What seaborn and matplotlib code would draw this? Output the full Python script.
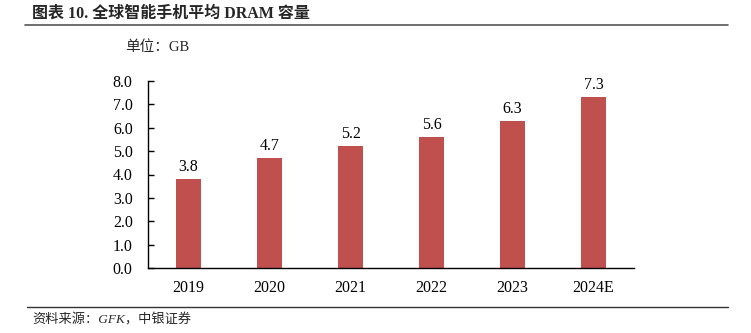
import matplotlib
matplotlib.use("Agg")
import matplotlib.pyplot as plt
import seaborn as sns
import pandas as pd
import numpy as np
from matplotlib.lines import Line2D

years = ["2019", "2020", "2021", "2022", "2023", "2024E"]
dram_gb = [3.8, 4.7, 5.2, 5.6, 6.3, 7.3]
y_ticks = [0.0, 1.0, 2.0, 3.0, 4.0, 5.0, 6.0, 7.0, 8.0]

title = "图表 10. 全球智能手机平均 DRAM 容量"
unit = "单位：GB"
source = "资料来源：GFK，中银证券"

sns.set_theme(style="white")
plt.rcParams["font.family"] = ["Liberation Serif", "Noto Sans CJK SC"]

df = pd.DataFrame({"year": years, "gb": dram_gb})

fig = plt.figure(figsize=(7.51, 3.33), dpi=100)
ax = fig.add_axes([148/751, 1-268/333, (634-148)/751, (268-81)/333])

sns.barplot(data=df, x="year", y="gb", color="#C0504D", width=0.31,
            saturation=1, ax=ax, edgecolor="none")

ax.set_xlim(-0.5, len(years) - 0.5)
ax.set_ylim(0, 8)
ax.set_yticks(y_ticks)
ax.set_yticklabels([f"{v:.1f}" for v in y_ticks], fontsize=11.5, color="black")
ax.set_xticklabels(years, fontsize=11.5, color="black")
ax.set_xlabel("")
ax.set_ylabel("")

for s in ["top", "right"]:
    ax.spines[s].set_visible(False)
for s in ["left", "bottom"]:
    ax.spines[s].set_color("black")
    ax.spines[s].set_linewidth(1.0)

ax.tick_params(axis="x", which="major", length=0, pad=9)
ax.set_xticks(np.arange(-0.5, len(years), 1.0), minor=True)
ax.tick_params(axis="x", which="minor", direction="in", length=4, width=1, color="black")
ax.tick_params(axis="y", which="major", direction="in", length=4, width=1, color="black", pad=11, left=True)

for i, v in enumerate(dram_gb):
    ax.text(i, v + 0.18, f"{v:.1f}", ha="center", va="bottom", fontsize=11.5, color="black")

fig.text(32/751, 1-14/333, title, fontsize=11.5, fontweight="bold", ha="left", va="center")
fig.add_artist(Line2D([25/751, 728/751], [1-25/333, 1-25/333], color="#555555", lw=1.2))
fig.text(125/751, 1-47/333, unit, fontsize=10.5, ha="left", va="center")
fig.add_artist(Line2D([27/751, 728/751], [1-307/333, 1-307/333], color="#333333", lw=1.0))
fig.text(32/751, 1-320/333, source, fontsize=9.5, style="italic", ha="left", va="center")

fig.savefig("out.png", dpi=100)
